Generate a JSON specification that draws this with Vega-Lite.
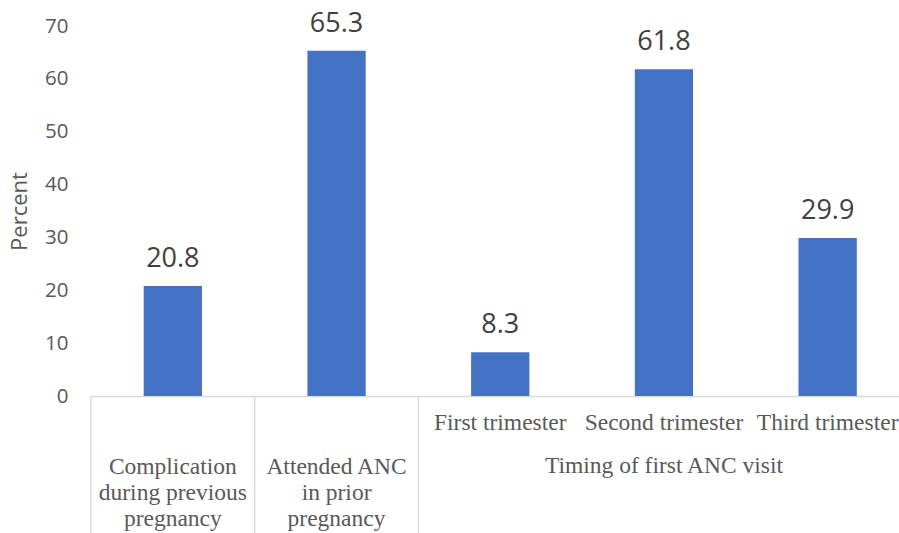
{
  "$schema": "https://vega.github.io/schema/vega-lite/v6.json",
  "width": 808,
  "height": 370,
  "autosize": "none",
  "padding": {"left": 91, "top": 26, "right": 0, "bottom": 137},
  "background": "white",
  "config": {"view": {"stroke": null}},
  "datasets": {
    "bars": [
      {"cat": "Complication during previous pregnancy", "label": "Complication\nduring previous\npregnancy", "group": "Complication during previous pregnancy", "value": 20.8},
      {"cat": "Attended ANC in prior pregnancy", "label": "Attended ANC\nin prior\npregnancy", "group": "Attended ANC in prior pregnancy", "value": 65.3},
      {"cat": "First trimester", "label": "First trimester", "group": "Timing of first ANC visit", "value": 8.3},
      {"cat": "Second trimester", "label": "Second trimester", "group": "Timing of first ANC visit", "value": 61.8},
      {"cat": "Third trimester", "label": "Third trimester", "group": "Timing of first ANC visit", "value": 29.9}
    ],
    "groups": [
      {"cat": "Second trimester", "group": "Timing of first ANC visit"}
    ]
  },
  "data": {"name": "bars"},
  "encoding": {
    "x": {
      "field": "cat",
      "type": "nominal",
      "sort": null,
      "scale": {"range": [0, 818.5], "paddingInner": 0, "paddingOuter": 0},
      "axis": {"title": null, "labels": false, "ticks": false, "domainColor": "#d9d9d9", "domainWidth": 1.3}
    }
  },
  "layer": [
    {
      "mark": {"type": "bar", "color": "#4472C4", "width": {"band": 0.356}},
      "encoding": {
        "y": {
          "field": "value",
          "type": "quantitative",
          "scale": {"domain": [0, 70], "nice": false},
          "axis": {
            "title": "Percent",
            "titleFont": "Open Sans",
            "titleFontSize": 22,
            "titleFontWeight": "normal",
            "titleColor": "#595959",
            "titlePadding": 13,
            "values": [0, 10, 20, 30, 40, 50, 60, 70],
            "labelFont": "Open Sans",
            "labelFontSize": 20.5,
            "labelColor": "#595959",
            "labelPadding": 23,
            "ticks": false,
            "domain": false,
            "grid": false
          }
        }
      }
    },
    {
      "mark": {"type": "text", "font": "Open Sans", "fontSize": 27, "color": "#404040", "baseline": "alphabetic", "dy": -19},
      "encoding": {
        "y": {"field": "value", "type": "quantitative"},
        "text": {"field": "value", "type": "quantitative", "format": ".1f"}
      }
    },
    {
      "transform": [
        {"window": [{"op": "row_number", "as": "rank"}], "groupby": ["group"]},
        {"filter": "datum.rank == 1"}
      ],
      "mark": {"type": "rule", "color": "#d9d9d9", "strokeWidth": 1.3},
      "encoding": {
        "x": {"field": "cat", "type": "nominal", "sort": null, "bandPosition": 0},
        "y": {"datum": 0},
        "y2": {"datum": -30}
      }
    },
    {
      "transform": [{"filter": "datum.cat != datum.group"}],
      "mark": {"type": "text", "font": "Liberation Serif", "fontSize": 23.5, "color": "#595959", "baseline": "alphabetic", "dy": 34},
      "encoding": {
        "y": {"datum": 0},
        "text": {"field": "label"}
      }
    },
    {
      "transform": [{"filter": "datum.cat == datum.group"}],
      "mark": {"type": "text", "font": "Liberation Serif", "fontSize": 23.5, "color": "#595959", "baseline": "alphabetic", "dy": 78, "lineBreak": "\n", "lineHeight": 26},
      "encoding": {
        "y": {"datum": 0},
        "text": {"field": "label"}
      }
    },
    {
      "data": {"name": "groups"},
      "mark": {"type": "text", "font": "Liberation Serif", "fontSize": 23.5, "color": "#595959", "baseline": "alphabetic", "dy": 77},
      "encoding": {
        "y": {"datum": 0},
        "text": {"field": "group"}
      }
    }
  ]
}
